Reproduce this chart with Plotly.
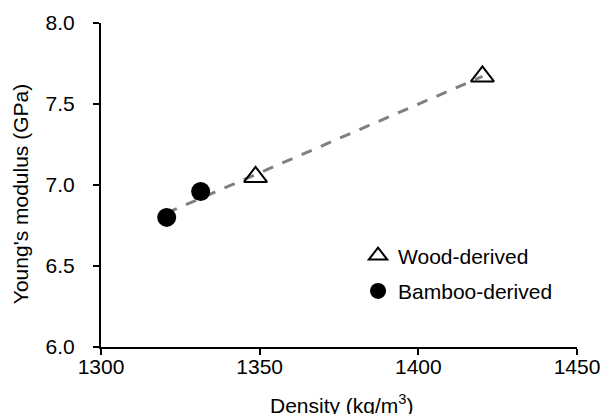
import numpy as np
import plotly.graph_objects as go

# Data
wood_density = [1348.7, 1420.2]
wood_modulus = [7.05, 7.67]
bamboo_density = [1320.7, 1331.4]
bamboo_modulus = [6.80, 6.96]

x_ticks = [1300, 1350, 1400, 1450]
y_ticks = [6.0, 6.5, 7.0, 7.5, 8.0]

x_title = "Density (kg/m<sup>3</sup>)"
y_title = "Young's modulus (GPa)"

# Linear trend line through all samples
all_x = np.array(wood_density + bamboo_density)
all_y = np.array(wood_modulus + bamboo_modulus)
slope, intercept = np.polyfit(all_x, all_y, 1)
fit_x = np.array([all_x.min(), all_x.max()])
fit_y = slope * fit_x + intercept

FONT = "Liberation Sans, Arial, sans-serif"
FS = 21

fig = go.Figure()
fig.add_trace(go.Scatter(
    x=fit_x, y=fit_y, mode="lines",
    line=dict(color="#808080", width=3, dash="11px,10px"),
    showlegend=False, hoverinfo="skip"))
fig.add_trace(go.Scatter(
    x=wood_density, y=wood_modulus, mode="markers", name="Wood-derived",
    legendgroup="w",
    marker=dict(symbol="triangle-up-open", size=20, color="black",
                line=dict(color="black", width=2))))
fig.add_trace(go.Scatter(
    x=bamboo_density, y=bamboo_modulus, mode="markers", name="Bamboo-derived",
    legendgroup="b",
    marker=dict(symbol="circle", size=19, color="black",
                line=dict(color="black", width=0))))

fig.update_layout(
    width=601, height=414,
    margin=dict(l=101, r=24, t=23, b=67, autoexpand=False),
    paper_bgcolor="white", plot_bgcolor="white",
    font=dict(family=FONT, size=FS, color="black"),
    legend=dict(x=0.54, y=0.227, xanchor="left", yanchor="middle",
                bgcolor="rgba(0,0,0,0)", font=dict(size=FS),
                traceorder="grouped", tracegroupgap=5,
                itemsizing="trace"),
    xaxis=dict(
        range=[1300, 1450], tickvals=x_ticks,
        ticktext=[str(v) for v in x_ticks],
        showgrid=False, zeroline=False, automargin=False,
        showline=True, linecolor="black", linewidth=2,
        ticks="outside", ticklen=6, tickwidth=2, tickcolor="black",
        ticklabelstandoff=-6),
    yaxis=dict(
        range=[6.0, 8.0], tickvals=y_ticks,
        ticktext=[f"{v:.1f}" for v in y_ticks],
        showgrid=False, zeroline=False, automargin=False,
        showline=True, linecolor="black", linewidth=2,
        ticks="outside", ticklen=6, tickwidth=2, tickcolor="black",
        ticklabelstandoff=14),
    annotations=[
        dict(text=x_title, xref="paper", yref="paper", x=0.506, y=-0.176,
             xanchor="center", yanchor="middle", showarrow=False,
             font=dict(size=FS)),
        dict(text=y_title, xref="paper", yref="paper", x=-0.170, y=0.472,
             xanchor="center", yanchor="middle", showarrow=False,
             textangle=-90, font=dict(size=FS)),
    ],
)

fig.write_html("out.html")
